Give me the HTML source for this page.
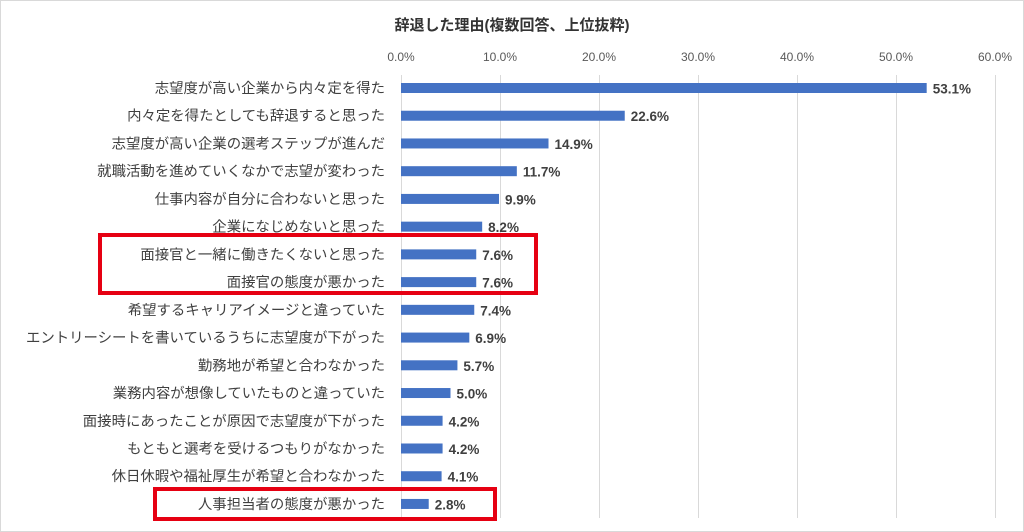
<!DOCTYPE html>
<html><head><meta charset="utf-8"><style>
html,body{margin:0;padding:0;background:#fff}
svg{display:block}
text{font-family:"Liberation Sans","Noto Sans CJK JP",sans-serif}
</style></head><body>
<svg width="1024" height="532" viewBox="0 0 1024 532">
<rect x="0.5" y="0.5" width="1023" height="531" fill="#fff" stroke="#d9d9d9"/>
<text x="512" y="30" text-anchor="middle" font-size="15" font-weight="bold" fill="#333">辞退した理由(複数回答、上位抜粋)</text>
<g stroke="#d9d9d9" stroke-width="1">
<line x1="401.5" y1="75" x2="401.5" y2="518"/>
<line x1="500.5" y1="75" x2="500.5" y2="518"/>
<line x1="599.5" y1="75" x2="599.5" y2="518"/>
<line x1="698.5" y1="75" x2="698.5" y2="518"/>
<line x1="797.5" y1="75" x2="797.5" y2="518"/>
<line x1="896.5" y1="75" x2="896.5" y2="518"/>
<line x1="995.5" y1="75" x2="995.5" y2="518"/>
</g>
<g font-size="12" fill="#595959" text-anchor="middle">
<text x="401" y="61">0.0%</text><text x="500" y="61">10.0%</text><text x="599" y="61">20.0%</text><text x="698" y="61">30.0%</text><text x="797" y="61">40.0%</text><text x="896" y="61">50.0%</text><text x="995" y="61">60.0%</text>
</g>
<g id="rows"></g>
<rect x="100" y="235" width="436" height="58" fill="none" stroke="#e60012" stroke-width="4"/>
<rect x="155" y="489" width="340" height="30" fill="none" stroke="#e60012" stroke-width="4"/>
</svg>
<script>
var d=[["志望度が高い企業から内々定を得た",53.1],["内々定を得たとしても辞退すると思った",22.6],["志望度が高い企業の選考ステップが進んだ",14.9],["就職活動を進めていくなかで志望が変わった",11.7],["仕事内容が自分に合わないと思った",9.9],["企業になじめないと思った",8.2],["面接官と一緒に働きたくないと思った",7.6],["面接官の態度が悪かった",7.6],["希望するキャリアイメージと違っていた",7.4],["エントリーシートを書いているうちに志望度が下がった",6.9],["勤務地が希望と合わなかった",5.7],["業務内容が想像していたものと違っていた",5.0],["面接時にあったことが原因で志望度が下がった",4.2],["もともと選考を受けるつもりがなかった",4.2],["休日休暇や福祉厚生が希望と合わなかった",4.1],["人事担当者の態度が悪かった",2.8]];
var g=document.getElementById('rows'),s='';
d.forEach(function(r,i){var y=88+i*27.73,w=r[1]*9.9;
s+='<text x="385" y="'+(y+5)+'" text-anchor="end" font-size="14.4" fill="#404040">'+r[0]+'</text>';
s+='<rect x="401" y="'+(y-5)+'" width="'+w+'" height="10" fill="#4472c4"/>';
s+='<text x="'+(401+w+6)+'" y="'+(y+5.5)+'" font-size="13.5" font-weight="bold" fill="#404040">'+r[1].toFixed(1)+'%</text>';});
g.innerHTML=s;
</script>
</body></html>
